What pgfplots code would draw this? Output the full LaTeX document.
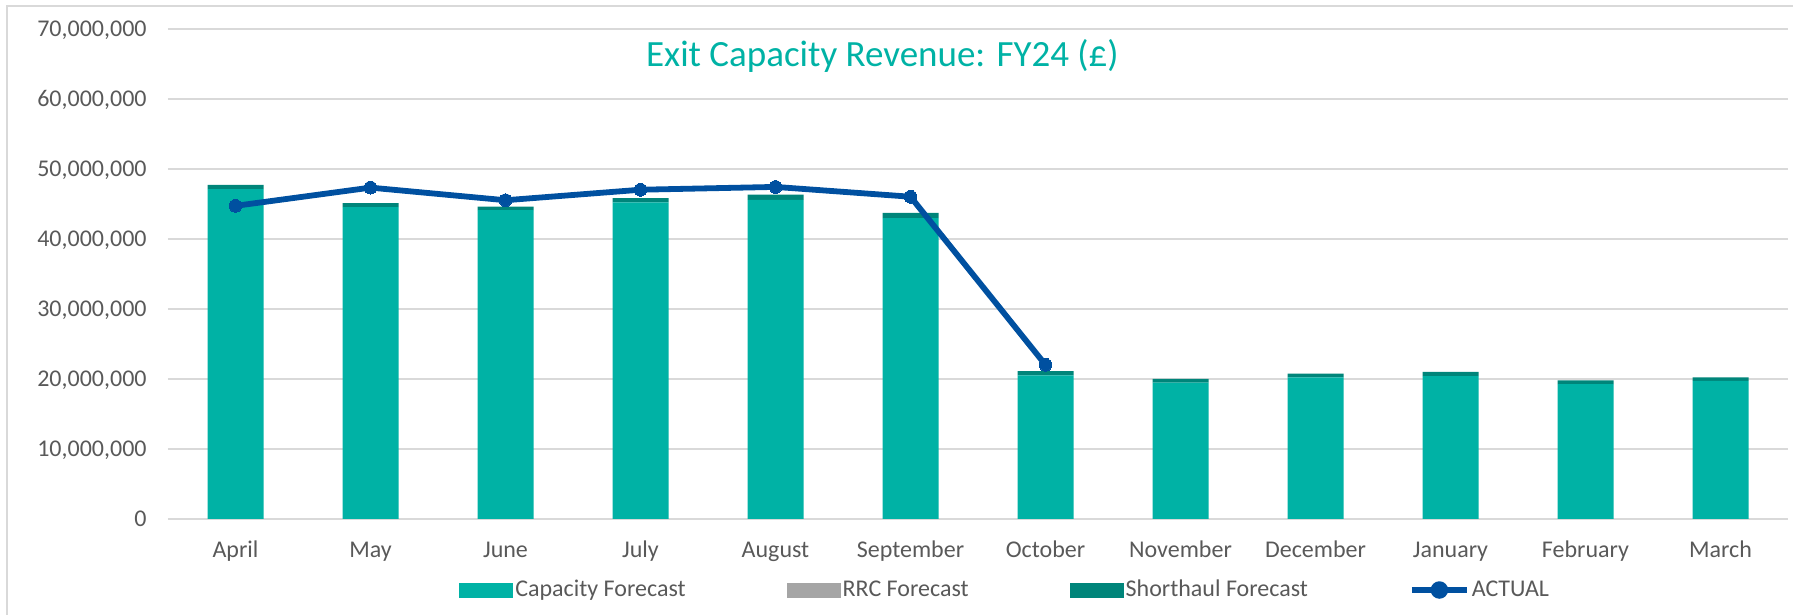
\documentclass[border=0pt]{standalone}
\usepackage{fontspec}
\setmainfont{Carlito}
\usepackage{pgfplots}
\pgfplotsset{compat=1.18}
\definecolor{capc}{HTML}{00B2A5}
\definecolor{shortc}{HTML}{00857A}
\definecolor{rrcc}{HTML}{A5A5A5}
\definecolor{actc}{HTML}{0050A0}
\definecolor{gridc}{HTML}{D9D9D9}
\definecolor{txtc}{HTML}{595959}
\pgfplotsset{base/.style={
  width=810pt, height=245.2pt, scale only axis,
  xmin=-0.5, xmax=11.5, ymin=0, ymax=70000000,
}}
\begin{document}
\begin{tikzpicture}
\begin{axis}[base, name=main,
  ybar stacked, bar width=28pt,
  ymajorgrids, grid style={gridc, line width=1pt},
  axis line style={draw=none},
  major tick length=0pt,
  xtick={0,1,2,3,4,5,6,7,8,9,10,11},
  xticklabels={April,May,June,July,August,September,October,November,December,January,February,March},
  ytick={0,10000000,20000000,30000000,40000000,50000000,60000000,70000000},
  scaled y ticks=false,
  /pgf/number format/fixed,
  /pgf/number format/1000 sep={,},
  /pgf/number format/assume math mode=true,
  tick label style={font=\fontsize{12pt}{14pt}\selectfont, text=txtc},
  xticklabel style={anchor=base, yshift=-19.5pt},
  yticklabel style={anchor=base east, inner sep=0pt, xshift=-10.5pt, yshift=-3.8pt},
  legend style={draw=none, fill=none, at={(0.1796,-0.1448)}, anchor=west,
    font=\fontsize{12pt}{14pt}\selectfont, text=txtc, inner sep=0pt,
    nodes={inner sep=1pt},
    /tikz/every even column/.append style={column sep=49.5pt}},
  legend columns=4, legend cell align=left,
]
\addplot[fill=capc, draw=none, legend image code/.code={\fill[capc] (0pt,-3.75pt) rectangle (27pt,3.75pt);}] coordinates {
(0,47100000) (1,44500000) (2,44100000) (3,45200000) (4,45550000) (5,42950000)
(6,20500000) (7,19450000) (8,20200000) (9,20400000) (10,19250000) (11,19700000)};
\addlegendentry{Capacity Forecast}
\addplot[fill=rrcc, draw=none, legend image code/.code={\fill[rrcc] (0pt,-3.75pt) rectangle (27pt,3.75pt);}] coordinates {
(0,0) (1,0) (2,0) (3,0) (4,0) (5,0) (6,0) (7,0) (8,0) (9,0) (10,0) (11,0)};
\addlegendentry{RRC Forecast}
\addplot[fill=shortc, draw=none, legend image code/.code={\fill[shortc] (0pt,-3.75pt) rectangle (27pt,3.75pt);}] coordinates {
(0,600000) (1,600000) (2,500000) (3,600000) (4,750000) (5,750000)
(6,600000) (7,550000) (8,550000) (9,600000) (10,550000) (11,500000)};
\addlegendentry{Shorthaul Forecast}
\addlegendimage{actc, line width=2.9pt, legend image code/.code={\draw[actc, line width=2.9pt] (0pt,0pt) -- (27.5pt,0pt); \fill[actc] (13.75pt,0pt) circle (2.9pt);}}
\addlegendentry{ACTUAL}
\node[text=capc, font=\fontsize{18.5pt}{22pt}\selectfont] at (rel axis cs:0.441,0.944) {Exit Capacity Revenue: FY24 (£)};
\end{axis}
\begin{axis}[base, hide axis]
\addplot[actc, line width=2.9pt, line join=round, mark=*, mark size=3.2pt, mark options={fill=actc, draw=actc, line width=0pt}] coordinates {
(0,44700000) (1,47300000) (2,45500000) (3,47000000) (4,47400000) (5,46000000) (6,22000000)};
\end{axis}
\draw[gridc, line width=1pt] (main.south west) ++(-80.5pt,-48pt) -- ++(0pt,304.5pt) -- ++(893pt,0pt);
\pgfresetboundingbox
\path (main.south west) ++(-84pt,-48pt) rectangle ++(896.5pt,307.5pt);
\end{tikzpicture}
\end{document}
